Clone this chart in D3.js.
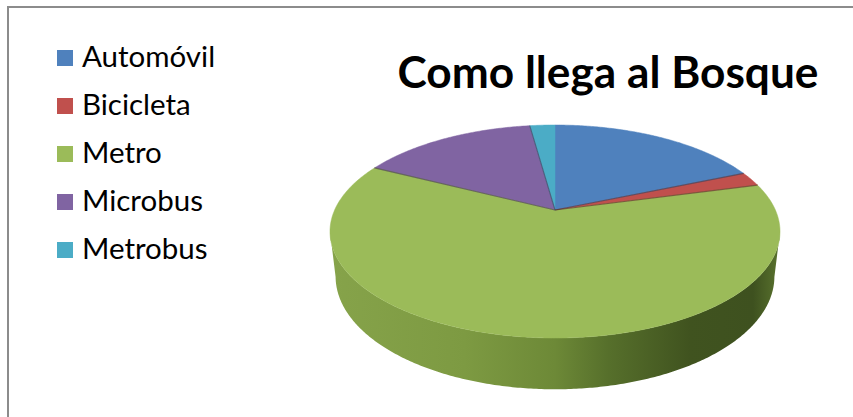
<!DOCTYPE html>
<html>
<head>
<meta charset="utf-8">
<script src="https://cdn.jsdelivr.net/npm/d3@7"></script>
<style>
  html, body { margin: 0; padding: 0; background: #fff; }
  svg { display: block; }
</style>
</head>
<body>
<div id="chart"></div>
<script>
const categories = ['Automóvil', 'Bicicleta', 'Metro', 'Microbus', 'Metrobus'];
const values = [17, 2, 56, 14, 2];
const colors = ['#4F81BD', '#C0504D', '#9BBB59', '#8064A2', '#4BACC6'];
const title = 'Como llega al Bosque';

const width = 853;
const height = 417;

// camera for the tilted disc
const view = {
  cx: 555, cy: 210,
  focal: 967,
  dist: 4.388,
  tilt: Math.asin(0.4636),
  thick: 0.232,
};

function project(x, y, z) {
  const s = Math.sin(view.tilt), c = Math.cos(view.tilt);
  const yc = y * c + z * s;
  const depth = view.dist + z * c - y * s;
  return [view.cx + view.focal * x / depth, view.cy - view.focal * yc / depth];
}

// point on rim, angle clockwise from the far side
const rim = (a, y) => project(Math.sin(a), y, Math.cos(a));

const svg = d3.select('#chart')
  .append('svg')
  .attr('width', width)
  .attr('height', height);

// chart frame (runs off the right and bottom edges)
svg.append('rect')
  .attr('x', 8)
  .attr('y', 7)
  .attr('width', width + 20)
  .attr('height', height + 20)
  .attr('fill', '#fff')
  .attr('stroke', '#8c8c8c')
  .attr('stroke-width', 2);

const pie = d3.pie().sort(null).startAngle(0).endAngle(2 * Math.PI);
const arcs = pie(values);
const line = d3.line();

const defs = svg.append('defs');
const sideGrad = defs.append('linearGradient')
  .attr('id', 'side')
  .attr('gradientUnits', 'userSpaceOnUse')
  .attr('x1', view.cx - 225).attr('x2', view.cx + 225)
  .attr('y1', 0).attr('y2', 0);
[
  [0, '#86a34a'], [0.3, '#7d9a42'], [0.5, '#6d8937'],
  [0.62, '#566f2b'], [0.8, '#40531f'], [0.94, '#3e511f'], [1, '#5a732e'],
].forEach(([o, col]) => sideGrad.append('stop').attr('offset', o).attr('stop-color', col));

// silhouette angles of the cylinder
const zEdge = -Math.cos(view.tilt) / view.dist;
const aRight = Math.acos(zEdge);
const aLeft = 2 * Math.PI - aRight;

function sample(a0, a1) {
  const n = Math.max(2, Math.ceil(Math.abs(a1 - a0) / 0.01));
  return d3.range(n + 1).map(i => a0 + (a1 - a0) * i / n);
}

const walls = svg.append('g').attr('class', 'walls');
arcs.forEach((d, i) => {
  const a0 = Math.max(d.startAngle, aRight);
  const a1 = Math.min(d.endAngle, aLeft);
  if (a1 <= a0) return;
  const angs = sample(a0, a1);
  const pts = angs.map(a => rim(a, 0))
    .concat(angs.slice().reverse().map(a => rim(a, -view.thick)));
  walls.append('path')
    .attr('d', line(pts) + 'Z')
    .attr('fill', i === 2 ? 'url(#side)' : d3.color(colors[i]).darker(0.8));
});

const tops = svg.append('g').attr('class', 'tops');
const apex = project(0, 0, 0);
arcs.forEach((d, i) => {
  const pts = [apex].concat(sample(d.startAngle, d.endAngle).map(a => rim(a, 0)));
  tops.append('path')
    .attr('d', line(pts) + 'Z')
    .attr('fill', colors[i])
    .attr('stroke', colors[i])
    .attr('stroke-width', 0.5);
});

// radial edges between slices
arcs.forEach((d, i) => {
  if (i === 0) return;
  tops.append('path')
    .attr('d', line([apex, rim(d.startAngle, 0)]))
    .attr('stroke', d3.color(colors[i - 1]).darker(2))
    .attr('stroke-opacity', 0.6)
    .attr('stroke-width', 1.1);
});

// title
svg.append('text')
  .attr('x', 608)
  .attr('y', 88)
  .attr('text-anchor', 'middle')
  .attr('font-family', 'Lato, "Open Sans", sans-serif')
  .attr('font-weight', 'bold')
  .attr('font-size', 43)
  .attr('textLength', 421)
  .attr('lengthAdjust', 'spacingAndGlyphs')
  .attr('fill', '#000')
  .text(title);

// legend
const legend = svg.append('g')
  .attr('class', 'legend')
  .attr('transform', 'translate(57, 50)');

const rows = legend.selectAll('g')
  .data(categories)
  .join('g')
  .attr('transform', (d, i) => `translate(0, ${i * 48})`);

rows.append('rect')
  .attr('width', 16)
  .attr('height', 16)
  .attr('fill', (d, i) => colors[i]);

rows.append('text')
  .attr('x', 25)
  .attr('y', 17)
  .attr('font-family', 'Lato, "Open Sans", sans-serif')
  .attr('font-size', 29.5)
  .attr('fill', '#000')
  .text(d => d);
</script>
</body>
</html>
